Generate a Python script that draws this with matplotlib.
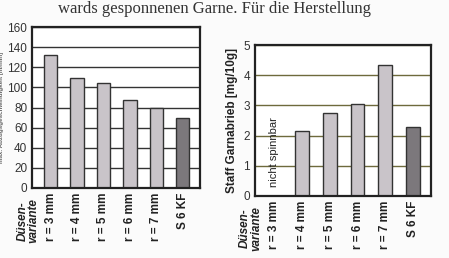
import matplotlib.pyplot as plt
import numpy as np

plt.rcParams['font.family'] = ['Liberation Sans', 'DejaVu Sans']

nozzles = ["r = 3 mm", "r = 4 mm", "r = 5 mm", "r = 6 mm", "r = 7 mm", "S 6 KF"]
speed = [132, 109, 104, 87, 80, 70]
abrasion = [np.nan, 2.15, 2.75, 3.05, 4.33, 2.27]
light = "#c9c4c9"
dark = "#7c787c"
colors = [light] * 5 + [dark]

fig = plt.figure(figsize=(4.49, 2.58), dpi=100)
fig.patch.set_facecolor("#fbfbfb")

# body text cut off at the top of the scan
fig.text(0.13, 0.998, "wards gesponnenen Garne. Für die Herstellung", family="Liberation Serif",
         fontsize=12, color="#333333", va="top", ha="left")

ax1 = fig.add_axes([32/449, 1 - 188/258, 168/449, 161/258])
ax2 = fig.add_axes([255/449, 1 - 196/258, 176/449, 151/258])

x = np.arange(len(nozzles))

def style(ax, ymax, step, gridcol):
    ax.set_xlim(-0.7, len(nozzles) - 0.35)
    ax.set_ylim(0, ymax)
    ax.set_yticks(np.arange(0, ymax + 0.01, step))
    ax.yaxis.grid(True, color=gridcol, lw=1.0)
    ax.set_axisbelow(True)
    for s in ax.spines.values():
        s.set_linewidth(1.6)
        s.set_color("#222222")
    ax.tick_params(axis="y", length=0, labelsize=8.5, colors="#333333")
    ax.tick_params(axis="x", length=0, labelsize=8.5, labelrotation=90, colors="#222222")
    ax.set_xticks(x)
    ax.set_xticklabels(nozzles, fontweight="bold")
    ax.text(-0.85, -0.065, "Düsen-\nvariante", transform=ax.get_xaxis_transform(),
            rotation=90, ha="center", va="top", fontsize=8.5, fontweight="bold",
            style="italic", color="#222222", linespacing=0.9)

ax1.bar(x, speed, width=0.5, color=colors, edgecolor="#333333", lw=1.0)
style(ax1, 160, 20, "#333333")
ax1.set_ylabel("max. Abzugsgeschwindigkeit [m/min]", fontsize=4.5, fontweight="bold",
               color="#666666", labelpad=2)

ax2.bar(x, abrasion, width=0.5, color=colors, edgecolor="#333333", lw=1.0)
style(ax2, 5, 1, "#6e6a3c")
ax2.set_ylabel("Staff Garnabrieb [mg/10g]", fontsize=8.5, fontweight="bold", color="#222222")
ax2.text(x[0], 0.3, "nicht spinnbar", rotation=90, ha="center", va="bottom",
         fontsize=8, color="#222222")

fig.savefig("out.png", dpi=100, facecolor=fig.get_facecolor())
